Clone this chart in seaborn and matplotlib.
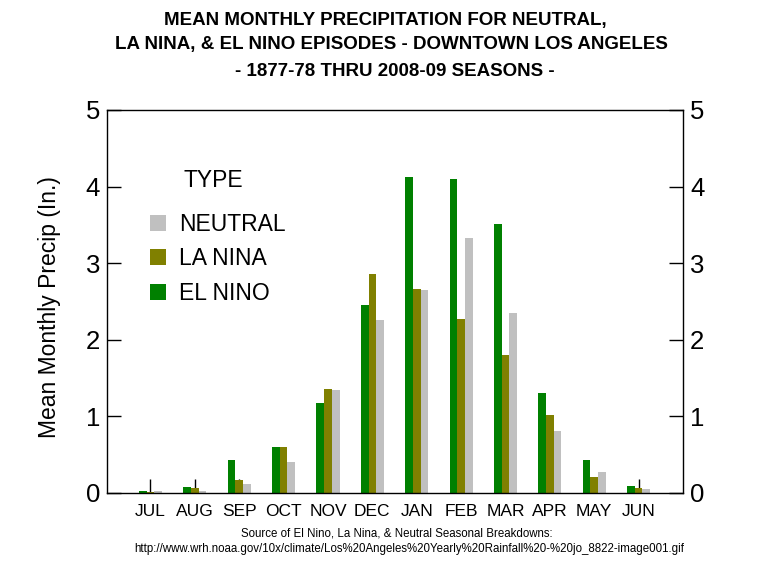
import matplotlib
matplotlib.use("Agg")
import matplotlib.pyplot as plt
import seaborn as sns
import pandas as pd

MONTHS = ['JUL', 'AUG', 'SEP', 'OCT', 'NOV', 'DEC', 'JAN', 'FEB', 'MAR', 'APR', 'MAY', 'JUN']
EL_NINO = [0.02, 0.08, 0.43, 0.60, 1.17, 2.45, 4.13, 4.10, 3.51, 1.31, 0.43, 0.09]
LA_NINA = [0.01, 0.07, 0.17, 0.60, 1.36, 2.86, 2.66, 2.27, 1.80, 1.02, 0.21, 0.07]
NEUTRAL = [0.02, 0.03, 0.12, 0.40, 1.34, 2.26, 2.65, 3.33, 2.35, 0.81, 0.27, 0.05]
TYPES = ['EL NINO', 'LA NINA', 'NEUTRAL']
COLORS = {'EL NINO': '#008000', 'LA NINA': '#808000', 'NEUTRAL': '#c0c0c0'}

rows = []
for name, vals in zip(TYPES, [EL_NINO, LA_NINA, NEUTRAL]):
    for m, v in zip(MONTHS, vals):
        rows.append((m, name, v))
df = pd.DataFrame(rows, columns=['month', 'type', 'precip'])

sns.set_style('white')
plt.rcParams['font.family'] = ['Liberation Sans', 'DejaVu Sans']
plt.rcParams['text.color'] = 'black'
plt.rcParams['axes.labelcolor'] = 'black'
plt.rcParams['xtick.color'] = 'black'
plt.rcParams['ytick.color'] = 'black'

W, H = 770, 562
fig = plt.figure(figsize=(W / 100, H / 100), dpi=100)
ax = fig.add_axes([107 / W, 1 - 493 / H, (683 - 107) / W, (493 - 110) / H])

sns.barplot(data=df, x='month', y='precip', hue='type', hue_order=TYPES,
            order=MONTHS, palette=COLORS, width=0.52, gap=0, saturation=1,
            errorbar=None, linewidth=0, ax=ax)

ax.set_axisbelow(True)
ax.set_xlim(-0.98, 12.0)
ax.set_ylim(0, 5)
ax.set_yticks([0, 1, 2, 3, 4, 5])
ax.set_xlabel('')
ax.set_ylabel('')
for s in ax.spines.values():
    s.set_color('black')
    s.set_linewidth(1)
ax.tick_params(axis='y', direction='in', length=10, width=1, colors='black',
               labelsize=18.5, pad=5, left=True, right=True,
               labelleft=True, labelright=True)
ax.tick_params(axis='x', direction='in', length=10, width=1, colors='black',
               labelsize=12.5, pad=8, bottom=True)

fig.text(50 / W, 1 - 307 / H, 'Mean Monthly Precip (In.)', rotation=90,
         ha='center', va='center', fontsize=16.5)

# legend: NEUTRAL, LA NINA, EL NINO from top
handles, labels = ax.get_legend_handles_labels()
ax.legend(handles[::-1], labels[::-1], loc='upper left',
          bbox_to_anchor=(150 / W, 1 - 213 / H), bbox_transform=fig.transFigure,
          frameon=False, fontsize=16.5, handlelength=0.7, handleheight=0.7,
          handletextpad=0.55, labelspacing=0.5, borderpad=0, borderaxespad=0)
fig.text(183 / W, 1 - 180 / H, 'TYPE', ha='left', va='center', fontsize=16.5)

title_lines = ['MEAN MONTHLY PRECIPITATION FOR NEUTRAL,',
               'LA NINA, & EL NINO EPISODES - DOWNTOWN LOS ANGELES',
               '- 1877-78 THRU 2008-09 SEASONS -']
for txt, cx, cy in zip(title_lines, [385, 391, 395], [20, 45, 72]):
    fig.text(cx / W, 1 - cy / H, txt, ha='center', va='center',
             fontsize=13.5, fontweight='bold')

fig.text(397 / W, 1 - 533 / H,
         'Source of El Nino, La Nina, & Neutral Seasonal Breakdowns:',
         ha='center', va='center', fontsize=8.3)
fig.text(409 / W, 1 - 549 / H,
         'http://www.wrh.noaa.gov/10x/climate/Los%20Angeles%20Yearly%20Rainfall%20-%20jo_8822-image001.gif',
         ha='center', va='center', fontsize=8.3)

fig.savefig('out.png', dpi=100)
